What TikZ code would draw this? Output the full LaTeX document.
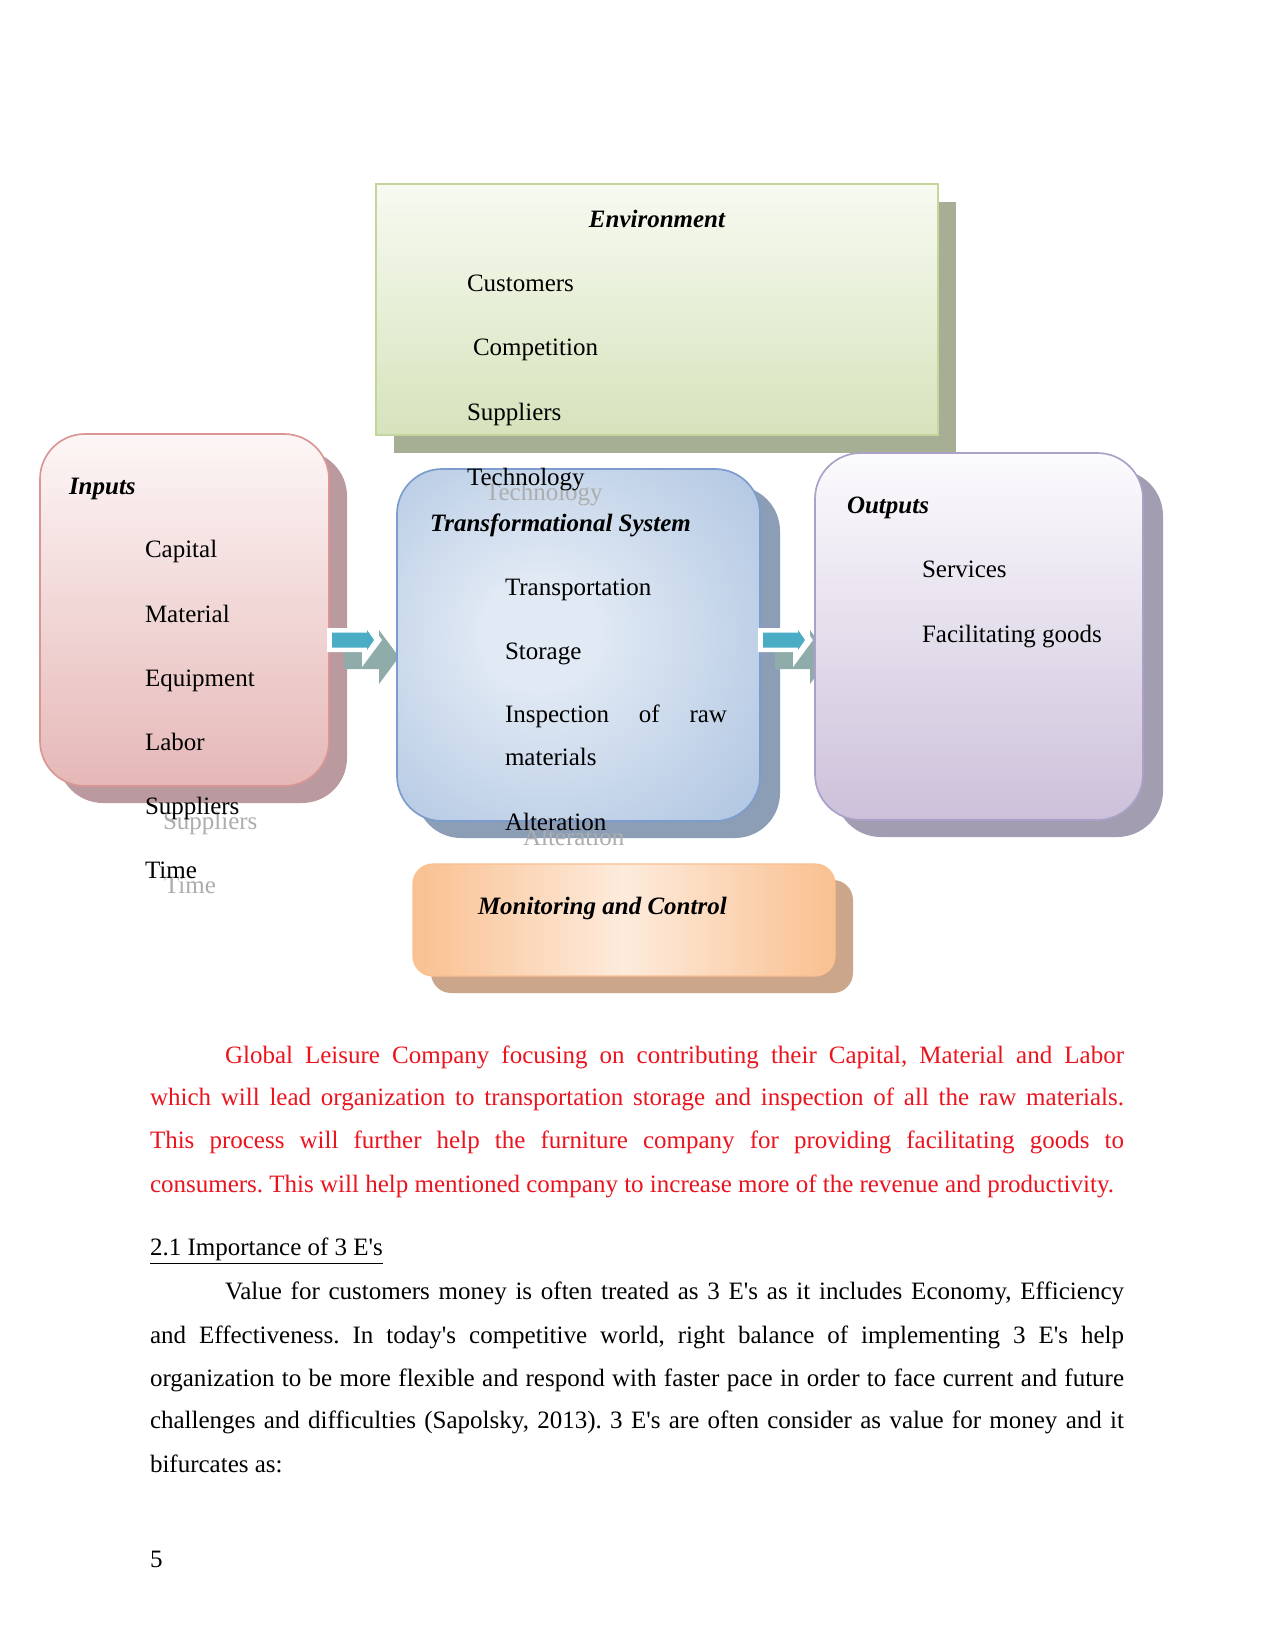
\documentclass[tikz,border=0pt]{standalone}
\usepackage{fontspec}
\setmainfont{Liberation Serif}
\definecolor{envtop}{RGB}{247,250,241}
\definecolor{envbot}{RGB}{214,227,188}
\definecolor{envbd}{RGB}{196,214,155}
\definecolor{envsh}{RGB}{166,174,148}
\definecolor{intop}{RGB}{253,246,246}
\definecolor{inbot}{RGB}{229,184,183}
\definecolor{inbd}{RGB}{217,150,148}
\definecolor{insh}{RGB}{186,154,158}
\definecolor{trin}{RGB}{224,233,244}
\definecolor{trout}{RGB}{152,180,216}
\definecolor{trbd}{RGB}{124,156,206}
\definecolor{trsh}{RGB}{140,158,182}
\definecolor{outtop}{RGB}{252,251,253}
\definecolor{outbot}{RGB}{204,192,218}
\definecolor{outbd}{RGB}{170,160,200}
\definecolor{outsh}{RGB}{163,157,178}
\definecolor{mcedge}{RGB}{250,192,144}
\definecolor{mcmid}{RGB}{253,235,220}
\definecolor{mcsh}{RGB}{203,166,138}
\definecolor{arrblue}{RGB}{75,172,198}
\definecolor{arrsh}{RGB}{143,171,170}
\definecolor{redtext}{RGB}{235,20,30}
\pgfdeclareradialshading{trshade}{\pgfpoint{-6bp}{2bp}}{color(0bp)=(trin); color(8bp)=(trin); color(52bp)=(trout); color(72bp)=(trout)}
\newcommand\aq{\textquotesingle}
\begin{document}
\frenchspacing
\begin{tikzpicture}[x=0.48pt,y=-0.48pt,
  lbl/.style={anchor=base west, inner sep=0pt, outer sep=0pt, font=\fontsize{12}{14}\selectfont},
  ttl/.style={lbl, font=\fontsize{12}{14}\selectfont\bfseries\itshape},
  ghost/.style={lbl, text=black!32},
  redline/.style={lbl, text=redtext},
  boxnode/.style={inner sep=0pt, outer sep=0pt},
  pics/blockarrow/.style={code={
    \fill[arrsh] (17,5) -- (52,5) -- (52,-10) -- (72,17) -- (52,44) -- (52,29) -- (17,29) -- cycle;
    \fill[white] (0,-12) -- (35,-12) -- (35,-27) -- (55,0) -- (35,27) -- (35,12) -- (0,12) -- cycle;
    \fill[arrblue] (5,-7.5) -- (40,-7.5) -- (40,-10) -- (47,0) -- (40,10) -- (40,7.5) -- (5,7.5) -- cycle;
  }}
]
\fill[white] (0,0) rectangle (1275,1650);

% Environment
\fill[envsh] (394,202) rectangle (956,453);
\node[boxnode, draw=envbd, line width=1.2pt, top color=envtop, bottom color=envbot,
  minimum width=269.76pt, minimum height=120.48pt] (env) at (657,309.5) {};

% Inputs
\fill[insh, rounded corners=21.6pt] (58,451) rectangle (347,803);
\node[boxnode, draw=inbd, line width=0.8pt, top color=intop, bottom color=inbot, rounded corners=21.6pt,
  minimum width=138.72pt, minimum height=168.96pt] (inputs) at (184.5,610) {};

% arrow 1
\coordinate (a1) at (327,640);
\pic at (a1) {blockarrow};

% Transformational system
\fill[trsh, rounded corners=21.6pt] (416,486) rectangle (780,838);
\node[boxnode, draw=trbd, line width=0.8pt, shading=trshade, rounded corners=21.6pt,
  minimum width=174.24pt, minimum height=168.96pt] (trans) at (578.5,645) {};

% arrow 2
\coordinate (a2) at (758,640);
\pic at (a2) {blockarrow};

% Outputs
\fill[outsh, rounded corners=22pt] (835,470) rectangle (1163,837);
\node[boxnode, draw=outbd, line width=0.8pt, top color=outtop, bottom color=outbot, rounded corners=22pt,
  minimum width=157.44pt, minimum height=176.16pt] (outputs) at (979,636.5) {};

% Monitoring and control
\fill[mcsh, rounded corners=9.6pt] (431,880) rectangle (853,993);
\node[boxnode, draw=mcedge, line width=0.6pt, left color=mcedge, right color=mcedge, middle color=mcmid, rounded corners=9.6pt,
  minimum width=202.56pt, minimum height=53.76pt] (mon) at (624,920) {};

% Environment texts
\node[ttl, anchor=base] (envt) at (657,228) {Environment};
\node[lbl] (cust) at (467,292) {Customers};
\node[lbl] (comp) at (473,356) {Competition};
\node[lbl] (esup) at (467,420) {Suppliers};
\node[ghost] (etechg) at (485,500) {Technology};
\node[lbl] (etech) at (467,485) {Technology};

% Inputs texts
\node[ttl] (int) at (69,494) {Inputs};
\node[lbl] (cap) at (145,557) {Capital};
\node[lbl] (mat) at (145,622) {Material};
\node[lbl] (equ) at (145,686) {Equipment};
\node[lbl] (lab) at (145,750) {Labor};
\node[ghost] (isupg) at (163,829) {Suppliers};
\node[lbl] (isup) at (145,814) {Suppliers};
\node[ghost] (timeg) at (164,893) {Time};
\node[lbl] (time) at (145,878) {Time};

% Transformational texts
\node[ttl] (trt) at (430,531) {Transformational System};
\node[lbl] (tra) at (505,595) {Transportation};
\node[lbl] (sto) at (505,659) {Storage};
\node[lbl] (insp) at (505,722) {\makebox[106.56pt][s]{Inspection of raw}};
\node[lbl] (rawm) at (505,765) {materials};
\node[ghost] (altg) at (523,845) {Alteration};
\node[lbl] (alt) at (505,830) {Alteration};

% Outputs texts
\node[ttl] (outt) at (847,513) {Outputs};
\node[lbl] (serv) at (922,577) {Services};
\node[lbl] (fac) at (922,642) {Facilitating goods};

% Monitoring text
\node[ttl] (mont) at (478,914) {Monitoring and Control};

% Paragraph 1 (red)
\node[redline] (p1a) at (225,1063) {\makebox[431.52pt][s]{Global Leisure Company focusing on contributing their Capital, Material and Labor}};
\node[redline] (p1b) at (150,1105) {\makebox[467.52pt][s]{which will lead organization to transportation storage and inspection of all the raw materials.}};
\node[redline] (p1c) at (150,1148) {\makebox[467.52pt][s]{This process will further help the furniture company for providing facilitating goods to}};
\node[redline] (p1d) at (150,1192) {consumers. This will help mentioned company to increase more of the revenue and productivity.};

% Heading
\node[lbl] (head) at (150,1255) {\underline{2.1 Importance of 3 E\aq s}};

% Paragraph 2
\node[lbl] (p2a) at (225,1299) {\makebox[431.52pt][s]{Value for customers money is often treated as 3 E\aq s as it includes Economy, Efficiency}};
\node[lbl] (p2b) at (150,1343) {\makebox[467.52pt][s]{and Effectiveness. In today\aq s competitive world, right balance of implementing 3 E\aq s help}};
\node[lbl] (p2c) at (150,1386) {\makebox[467.52pt][s]{organization to be more flexible and respond with faster pace in order to face current and future}};
\node[lbl] (p2d) at (150,1428) {\makebox[467.52pt][s]{challenges and difficulties (Sapolsky, 2013). 3 E\aq s are often consider as value for money and it}};
\node[lbl] (p2e) at (150,1472) {bifurcates as:};

% page number
\node[lbl] (pgn) at (150,1567) {5};
\end{tikzpicture}
\end{document}
